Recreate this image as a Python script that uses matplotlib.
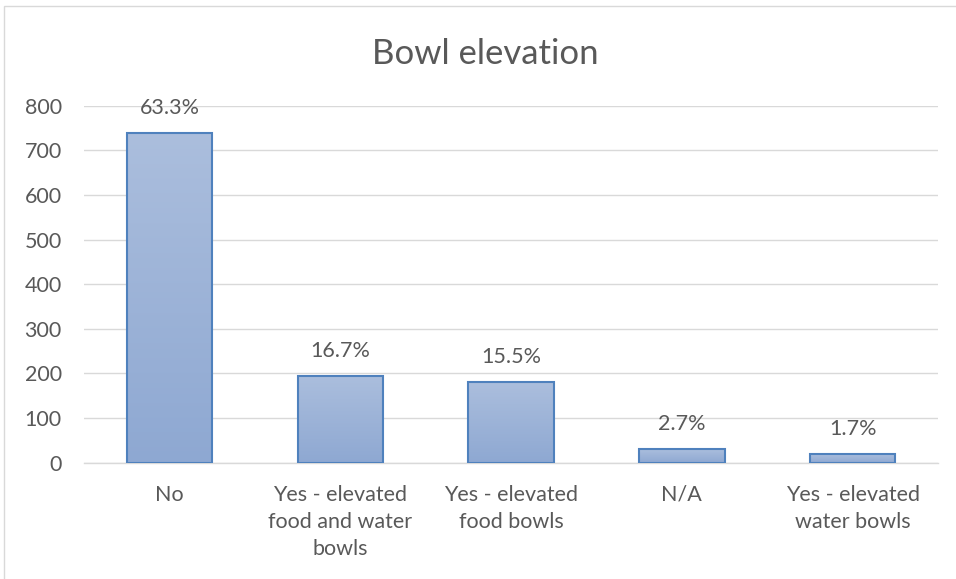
import numpy as np
import matplotlib
matplotlib.use("Agg")
import matplotlib.pyplot as plt
from matplotlib.patches import Rectangle

plt.rcParams['font.family'] = ['Lato', 'DejaVu Sans']

# Bowl elevation survey answers
categories = ["No", "Yes - elevated\nfood and water\nbowls", "Yes - elevated\nfood bowls",
              "N/A", "Yes - elevated\nwater bowls"]
counts = [738, 195, 181, 31, 20]
percent_labels = ["63.3%", "16.7%", "15.5%", "2.7%", "1.7%"]
y_ticks = [0, 100, 200, 300, 400, 500, 600, 700, 800]

text_grey = "#595959"
grid_grey = "#d9d9d9"
edge_blue = "#4f81bd"

fig = plt.figure(figsize=(9.56, 5.79), dpi=100)
ax = fig.add_axes([0.0879, 0.2009, 0.8933, 0.6165])

# outer chart border
fig.patches.append(Rectangle((4 / 956, -0.01), 1.02, 1 - 6 / 579 + 0.01,
                             transform=fig.transFigure, fill=False,
                             edgecolor=grid_grey, linewidth=1))

x = np.arange(len(categories))
bars = ax.bar(x, counts, width=0.5, facecolor="none", edgecolor=edge_blue,
              linewidth=1.5, zorder=3)

# vertical gradient fill for each bar
grad = np.linspace(0, 1, 256).reshape(-1, 1)
cmap = matplotlib.colors.LinearSegmentedColormap.from_list("bar", ["#8ea8d2", "#abbedd"])
for b in bars:
    ax.imshow(grad, cmap=cmap, aspect="auto", origin="lower",
              extent=(b.get_x(), b.get_x() + b.get_width(), 0, b.get_height()),
              zorder=2)

for b, lab in zip(bars, percent_labels):
    ax.annotate(lab, (b.get_x() + b.get_width() / 2, b.get_height()),
                xytext=(0, 18), textcoords="offset points",
                ha="center", va="center", fontsize=15.5, color=text_grey)

ax.set_xlim(-0.5, len(categories) - 0.5)
ax.set_ylim(0, 800)
ax.set_yticks(y_ticks)
ax.set_xticks(x)
ax.set_xticklabels(categories, linespacing=1.45)
ax.tick_params(axis="both", length=0, labelsize=15.5, colors=text_grey)
ax.tick_params(axis="y", pad=16)
ax.tick_params(axis="x", pad=16)
ax.grid(axis="y", color=grid_grey, linewidth=1, zorder=0)
ax.set_axisbelow(True)
for s in ["top", "right", "left"]:
    ax.spines[s].set_visible(False)
ax.spines["bottom"].set_color(grid_grey)
ax.spines["bottom"].set_linewidth(1)

fig.text(0.508, 1 - 54 / 579, "Bowl elevation", ha="center", va="center",
         fontsize=25, color=text_grey)

fig.savefig("out.png", dpi=100)
